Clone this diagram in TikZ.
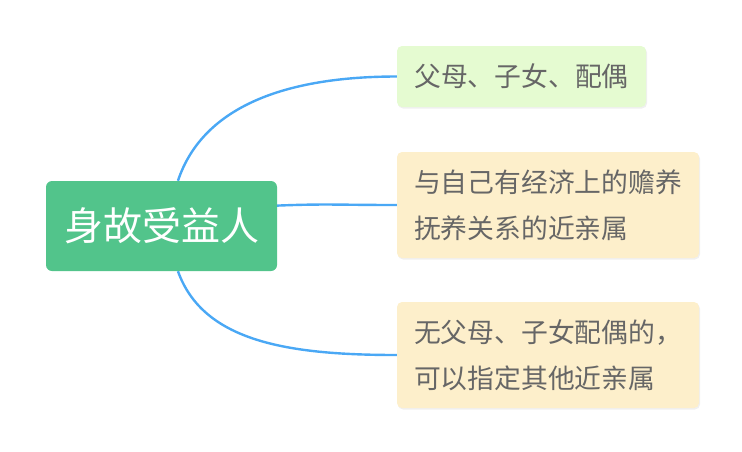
\documentclass[tikz,border=0pt]{standalone}
\usepackage{fontspec}
\usepackage{xcolor}
\usepackage{tikz}
\usetikzlibrary{shadows}
\newfontfamily\cjk{Noto Sans CJK SC}
\definecolor{rootgreen}{HTML}{52C48B}
\definecolor{leafgreenfill}{HTML}{E5FBD1}
\definecolor{leafyellowfill}{HTML}{FDEFCB}
\definecolor{leaftext}{HTML}{666666}
\definecolor{branchblue}{HTML}{4AA8F5}
\tikzset{
rootbox/.style={
fill=rootgreen,
rounded corners=6pt,
minimum width=231pt,
minimum height=90pt,
text=white,
font=\cjk\fontsize{39}{46}\selectfont,
inner sep=0pt
},
leafbox/.style={
rounded corners=5pt,
minimum width=302pt,
minimum height=106pt,
text=leaftext,
font=\cjk\fontsize{26.8}{46}\selectfont,
align=left,
inner sep=0pt,
drop shadow={opacity=0.12, shadow xshift=1pt, shadow yshift=-1.5pt}
},
leafgreen/.style={
leafbox,
fill=leafgreenfill,
minimum width=249pt,
minimum height=61pt
},
leafyellow/.style={
leafbox,
fill=leafyellowfill
},
branch/.style={
draw=branchblue,
line width=2.4pt
}
}

\begin{document}
\begin{tikzpicture}[x=1pt,y=-1pt]
\useasboundingbox (0,0) rectangle (742,451);

\node[rootbox] (root) at (161.5,226) {身故受益人};

\node[leafgreen] (spouse) at (521.5,76.5) {父母、子女、配偶};
\node[leafyellow] (support) at (548,205) {与自己有经济上的赡养\\抚养关系的近亲属};
\node[leafyellow] (others) at (548,355) {无父母、子女配偶的，\\可以指定其他近亲属};

\draw[branch] (root.70) .. controls +(25,-75) and +(-110,0) .. (spouse.west);
\draw[branch] (root.10) .. controls +(50,-2) and +(-60,0) .. (support.west);
\draw[branch] (root.-70) .. controls +(25,70) and +(-110,0) .. (others.west);

\end{tikzpicture}
\end{document}
